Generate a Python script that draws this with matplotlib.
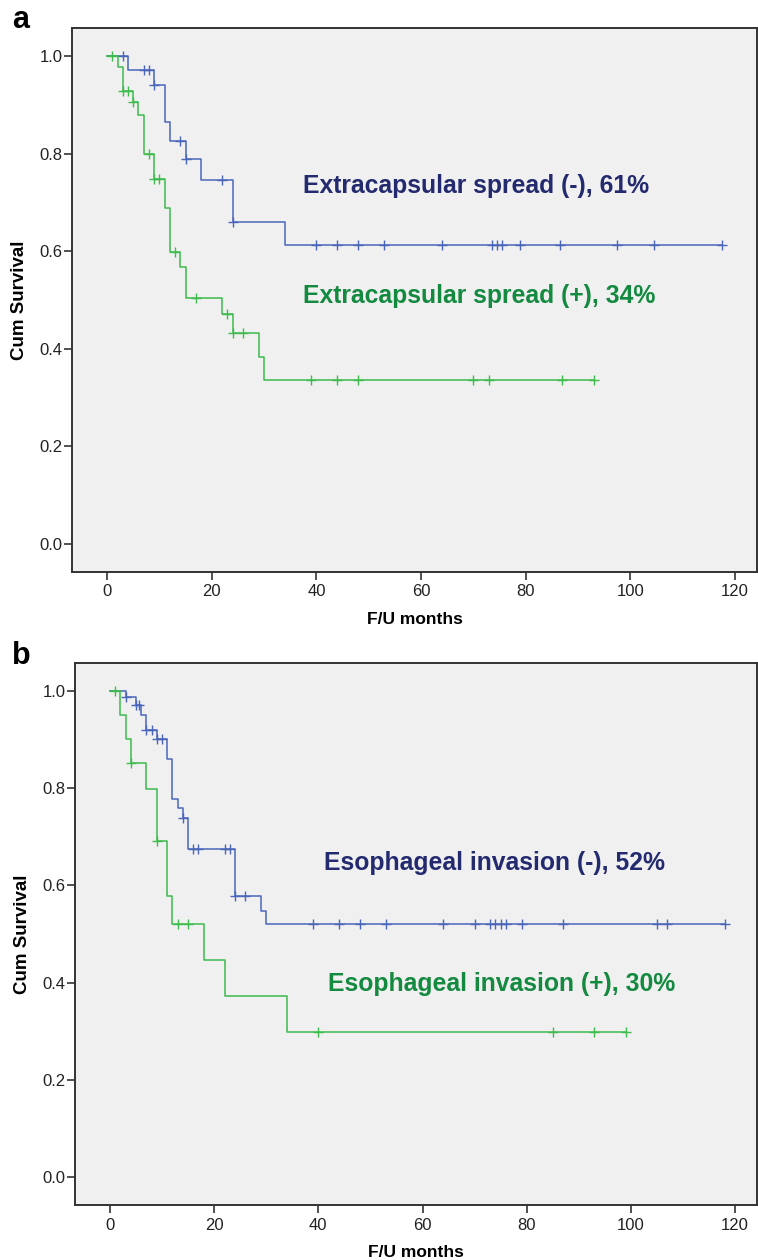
import numpy as np
import matplotlib.pyplot as plt

# ---- data (months, cumulative survival) ----
# panel a: extracapsular spread
a_neg_times = [0, 4, 9, 11, 12, 15, 18, 24, 34]
a_neg_surv = [1.0, 0.972, 0.94, 0.864, 0.826, 0.788, 0.746, 0.659, 0.613]
a_neg_cens = [3, 7, 8, 9, 14, 15, 22, 24, 40, 44, 48, 53, 64, 73.5, 74.5, 75.5,
              79, 86.5, 97.5, 104.5, 117.5]

a_pos_times = [0, 2, 3, 5, 6, 7, 9, 11, 12, 14, 15, 22, 24, 29, 30]
a_pos_surv = [1.0, 0.977, 0.929, 0.906, 0.878, 0.80, 0.748, 0.688, 0.599, 0.567,
              0.504, 0.471, 0.432, 0.384, 0.337]
a_pos_cens = [1, 3, 4, 5, 8, 9, 10, 13, 17, 23, 24, 26, 39, 44, 48, 70, 73, 87, 93]

# panel b: esophageal invasion
b_neg_times = [0, 3, 5, 6, 7, 9, 11, 12, 13, 14, 15, 24, 29, 30]
b_neg_surv = [1.0, 0.987, 0.97, 0.951, 0.919, 0.90, 0.859, 0.778, 0.758, 0.739,
              0.674, 0.578, 0.547, 0.52]
b_neg_cens = [3, 5, 5.5, 7, 8, 9, 10, 14, 16, 17, 22, 23, 24, 26, 39, 44, 48, 53,
              64, 70, 73, 74, 75, 76, 79, 87, 105, 107, 118]

b_pos_times = [0, 2, 3, 4, 7, 9, 11, 12, 18, 22, 34]
b_pos_surv = [1.0, 0.951, 0.90, 0.852, 0.799, 0.692, 0.578, 0.521, 0.447, 0.372, 0.298]
b_pos_cens = [1, 4, 9, 13, 15, 40, 85, 93, 99]

labels_a = ["Extracapsular spread (-), 61%", "Extracapsular spread (+), 34%"]
labels_b = ["Esophageal invasion (-), 52%", "Esophageal invasion (+), 30%"]

BLUE = "#4a66bb"
GREEN = "#3dbb4c"
NAVY = "#232a6e"
DKGREEN = "#138a40"
NARROW = ['Liberation Sans Narrow', 'Liberation Sans', 'DejaVu Sans']

plt.rcParams['font.family'] = ['Liberation Sans', 'DejaVu Sans']


def km_curve(ax, times, surv, cens, color):
    times = np.array(times, float)
    surv = np.array(surv, float)
    cens = np.array(cens, float)
    end = max(times.max(), cens.max())
    x = np.append(times, end)
    y = np.append(surv, surv[-1])
    ax.step(x, y, where='post', color=color, lw=1.1)
    idx = np.searchsorted(times, cens, side='right') - 1
    ax.plot(cens, surv[idx], ls='none', marker='+', ms=7, mew=1.0, color=color)


def style(ax):
    ax.set_facecolor('#f0f0f0')
    ax.set_xlim(-6.7, 124.2)
    ax.set_ylim(-0.057, 1.057)
    ax.set_xticks(range(0, 121, 20))
    ax.set_yticks(np.arange(0, 1.01, 0.2))
    ax.set_yticklabels([f"{v:.1f}" for v in np.arange(0, 1.01, 0.2)])
    ax.tick_params(length=6, width=1.2, color='#333333', labelcolor='#222222')
    ax.tick_params(axis='x', pad=3)
    ax.tick_params(axis='y', pad=1)
    for lab in ax.get_xticklabels() + ax.get_yticklabels():
        lab.set_family(NARROW)
        lab.set_fontsize(12)
    for s in ax.spines.values():
        s.set_color('#333333')
        s.set_linewidth(1.4)
    ax.set_ylabel("Cum Survival", fontsize=13.5, fontweight='bold', labelpad=8,
                  family=NARROW)
    ax.set_xlabel("F/U months", fontsize=12.5, fontweight='bold', labelpad=9,
                  family=NARROW)


fig = plt.figure(figsize=(7.58, 12.6), dpi=100)
ax1 = fig.add_axes([72 / 758, 1 - 572 / 1260, 685 / 758, 544 / 1260])
ax2 = fig.add_axes([75 / 758, 1 - 1205 / 1260, 682 / 758, 542 / 1260])

km_curve(ax1, a_neg_times, a_neg_surv, a_neg_cens, BLUE)
km_curve(ax1, a_pos_times, a_pos_surv, a_pos_cens, GREEN)
km_curve(ax2, b_neg_times, b_neg_surv, b_neg_cens, BLUE)
km_curve(ax2, b_pos_times, b_pos_surv, b_pos_cens, GREEN)

for ax in (ax1, ax2):
    style(ax)

fs = 17.8
ax1.text(37.4, 0.734, labels_a[0], color=NAVY, fontsize=fs, fontweight='bold', va='center')
ax1.text(37.4, 0.508, labels_a[1], color=DKGREEN, fontsize=fs, fontweight='bold', va='center')
ax2.text(41.0, 0.645, labels_b[0], color=NAVY, fontsize=fs, fontweight='bold', va='center')
ax2.text(41.9, 0.398, labels_b[1], color=DKGREEN, fontsize=fs, fontweight='bold', va='center')

fig.text(12 / 758, 1 - 20 / 1260, "a", fontsize=22, fontweight='bold', va='center')
fig.text(12 / 758, 1 - 656 / 1260, "b", fontsize=22, fontweight='bold', va='center')

fig.savefig("out.png", dpi=100)
